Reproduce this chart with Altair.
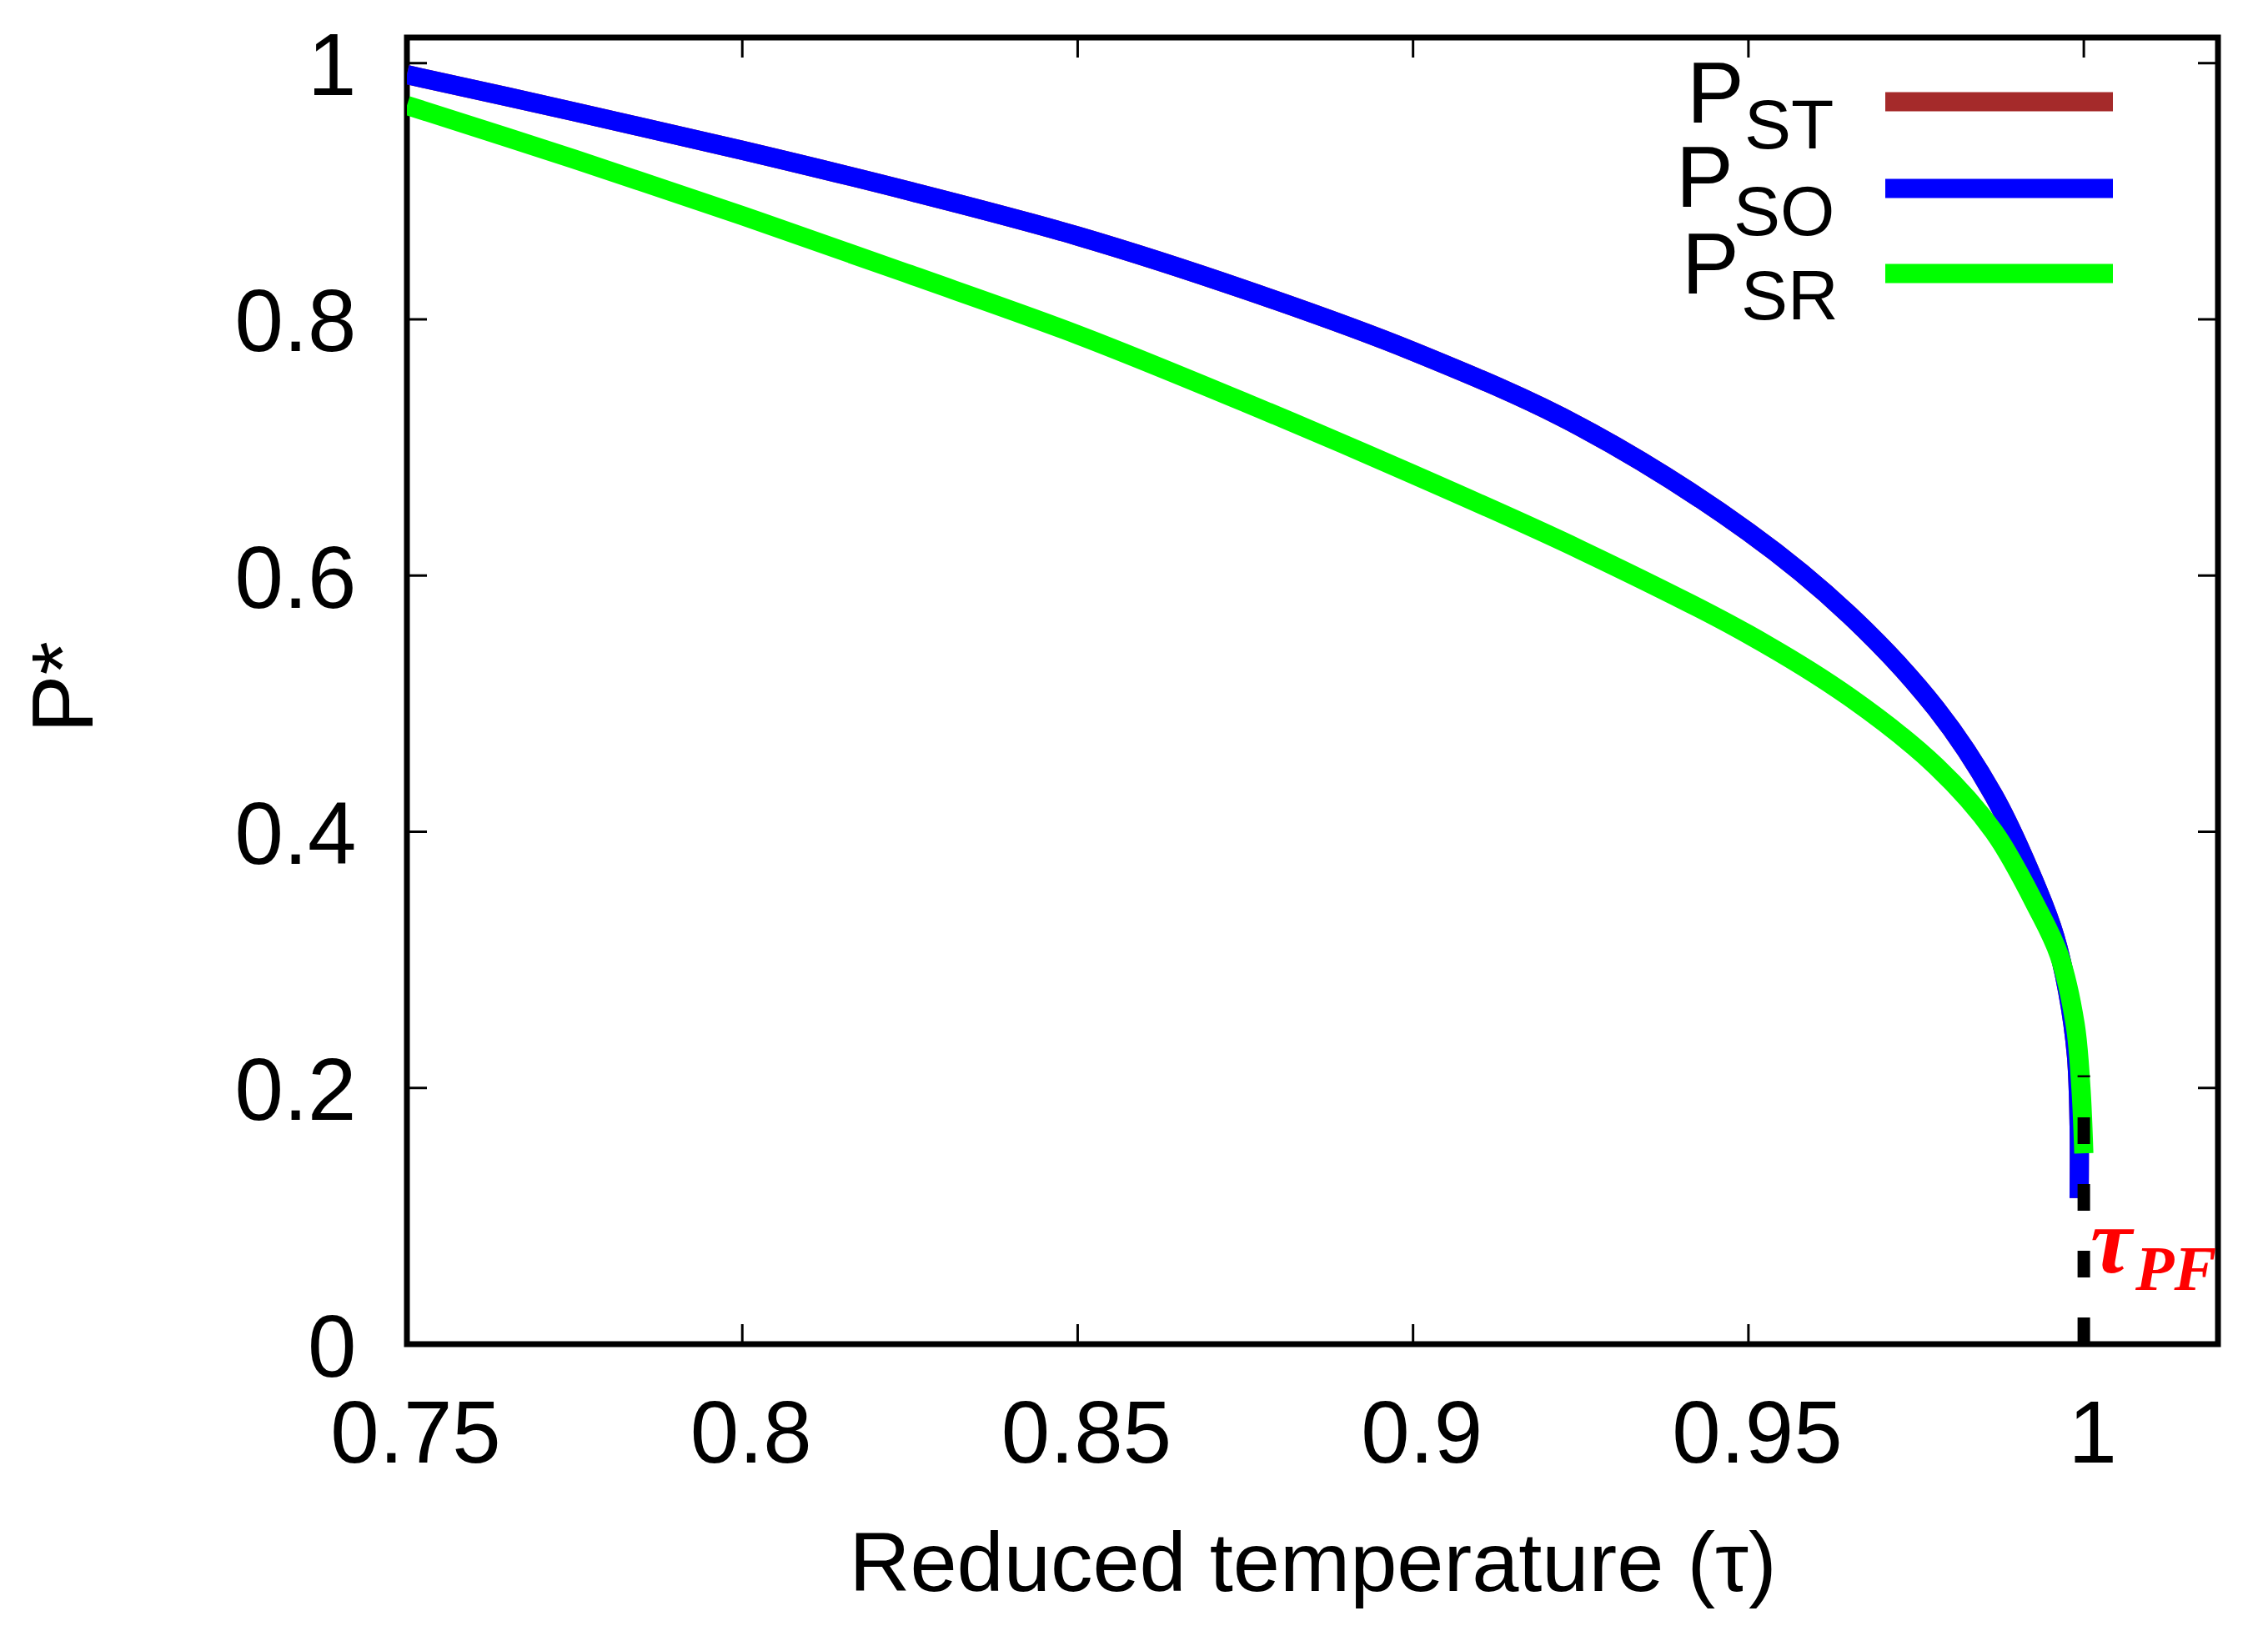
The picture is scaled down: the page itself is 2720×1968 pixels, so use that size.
import altair as alt
import pandas as pd

# ---------------- data ----------------
tau_st = [0.75, 0.775, 0.80, 0.825, 0.85, 0.875, 0.90, 0.925, 0.95, 0.9651, 0.978,
          0.9866, 0.9931, 0.9957, 0.9976, 0.9989, 0.9993, 0.9993]
p_st = [0.991, 0.962, 0.932, 0.900, 0.865, 0.823, 0.775, 0.716, 0.634, 0.569, 0.496,
        0.428, 0.355, 0.318, 0.275, 0.225, 0.170, 0.114]

tau_so = [0.75, 0.775, 0.80, 0.825, 0.85, 0.875, 0.90, 0.925, 0.95, 0.9651, 0.978,
          0.9866, 0.9931, 0.9957, 0.9976, 0.9989, 0.9993, 0.9993]
p_so = [0.991, 0.962, 0.932, 0.900, 0.865, 0.823, 0.775, 0.716, 0.634, 0.569, 0.496,
        0.428, 0.355, 0.318, 0.275, 0.225, 0.170, 0.114]

tau_sr = [0.75, 0.775, 0.80, 0.825, 0.85, 0.875, 0.90, 0.925, 0.95, 0.9651, 0.978,
          0.9866, 0.9931, 0.9963, 0.9987, 0.99957, 1.0]
p_sr = [0.967, 0.925, 0.881, 0.835, 0.788, 0.735, 0.679, 0.620, 0.554, 0.505, 0.451,
        0.400, 0.340, 0.304, 0.250, 0.200, 0.149]

series_main = ["P", "P", "P"]
series_sub = ["ST", "SO", "SR"]
series_colors = ["#a52a2a", "#0000ff", "#00ff00"]

x_ticks = [0.75, 0.8, 0.85, 0.9, 0.95, 1.0]
y_ticks = [0.0, 0.2, 0.4, 0.6, 0.8, 1.0]

tau_pf = [1.0]
pf_low = [0.0]
pf_high = [0.21]

x_title = "Reduced temperature (τ)"
y_title = "P*"

# ---------------- layout ----------------
W, H = 2172, 1567
FONT = "Liberation Sans"
TICK_LEN = 24

x_scale = alt.Scale(domain=[0.75, 1.02], nice=False, zero=False)
y_scale = alt.Scale(domain=[0, 1.02], nice=False, zero=False)

x_axis = alt.Axis(values=x_ticks, format="~g", title=x_title, labelFontSize=105,
                  labelPadding=58, labelFlush=False, labelOverlap=False, labelLimit=0,
                  labelOffset=10,
                  titleFontSize=101, titleFontWeight="normal",
                  titleBaseline="alphabetic", titleY=295)
y_axis = alt.Axis(values=y_ticks, format="~g", title=y_title, labelFontSize=105,
                  labelPadding=61, labelFlush=False, labelOverlap=False, labelLimit=0,
                  labelOffset=6,
                  titleFontSize=104, titleFontWeight="normal", titleAngle=270,
                  titleBaseline="alphabetic", titleX=-378, titleY=H / 2 - 45 + 40)


def X(field):
    return alt.X(field, type="quantitative", scale=x_scale, axis=x_axis)


def Y(field):
    return alt.Y(field, type="quantitative", scale=y_scale, axis=y_axis)


layers = []

# inward ticks on all four sides
df_xt = pd.DataFrame({"tau": x_ticks})
df_yt = pd.DataFrame({"p": y_ticks})
layers.append(alt.Chart(df_xt).mark_rule(color="black", strokeWidth=3).encode(
    x=X("tau"), y=alt.value(H), y2=alt.value(H - TICK_LEN)))
layers.append(alt.Chart(df_xt).mark_rule(color="black", strokeWidth=3).encode(
    x=X("tau"), y=alt.value(0), y2=alt.value(TICK_LEN)))
layers.append(alt.Chart(df_yt).mark_rule(color="black", strokeWidth=3).encode(
    y=Y("p"), x=alt.value(0), x2=alt.value(TICK_LEN)))
layers.append(alt.Chart(df_yt).mark_rule(color="black", strokeWidth=3).encode(
    y=Y("p"), x=alt.value(W), x2=alt.value(W - TICK_LEN)))

# curves (drawn in order ST, SO, SR)
for taus, ps, col in [(tau_st, p_st, series_colors[0]),
                      (tau_so, p_so, series_colors[1]),
                      (tau_sr, p_sr, series_colors[2])]:
    df = pd.DataFrame({"tau": taus, "p": ps, "idx": list(range(len(taus)))})
    layers.append(alt.Chart(df).mark_line(color=col, strokeWidth=23, clip=True,
                                          interpolate="catmull-rom",
                                          strokeCap="butt", strokeJoin="round").encode(
        x=X("tau"), y=Y("p"), order=alt.Order("idx:Q")))

# dashed vertical line at tau_PF
df_pf = pd.DataFrame({"tau": tau_pf, "p": pf_low, "p1": pf_high})
layers.append(alt.Chart(df_pf).mark_rule(color="black", strokeWidth=15,
                                         strokeDash=[32, 48], strokeCap="butt").encode(
    x=X("tau"), y=Y("p"), y2=alt.Y2("p1")))

# tau_PF label
df_lab1 = pd.DataFrame({"tau": tau_pf, "p": pf_low, "t": ["τ"]})
df_lab2 = pd.DataFrame({"tau": tau_pf, "p": pf_low, "t": ["PF"]})
layers.append(alt.Chart(df_lab1).mark_text(
    font="Liberation Serif", fontStyle="italic", fontWeight="bold", fontSize=112,
    color="#ff0000", align="left", baseline="alphabetic", dx=8, dy=-86).encode(
    x=X("tau"), y=Y("p"), text="t:N"))
layers.append(alt.Chart(df_lab2).mark_text(
    font="Liberation Serif", fontStyle="italic", fontWeight="bold", fontSize=76,
    color="#ff0000", align="left", baseline="alphabetic", dx=62, dy=-65).encode(
    x=X("tau"), y=Y("p"), text="t:N"))

# custom legend with subscripts
leg_line_x = (1773, 2046)
leg_line_y = [77, 181, 283]
leg_main_x = [1535, 1522, 1529]
leg_main_y = [102, 203, 307]
leg_sub_x = [1604, 1591, 1600]
leg_sub_y = [133, 237, 338]
for i in range(3):
    d_main = pd.DataFrame({"t": [series_main[i]]})
    d_sub = pd.DataFrame({"t": [series_sub[i]]})
    layers.append(alt.Chart(d_main).mark_rule(color=series_colors[i], strokeWidth=23,
                                              strokeCap="butt").encode(
        x=alt.value(leg_line_x[0]), x2=alt.value(leg_line_x[1]), y=alt.value(leg_line_y[i])))
    layers.append(alt.Chart(d_main).mark_text(font=FONT, fontSize=103, color="black",
                                              align="left", baseline="alphabetic").encode(
        x=alt.value(leg_main_x[i]), y=alt.value(leg_main_y[i]), text="t:N"))
    layers.append(alt.Chart(d_sub).mark_text(font=FONT, fontSize=84, color="black",
                                             align="left", baseline="alphabetic").encode(
        x=alt.value(leg_sub_x[i]), y=alt.value(leg_sub_y[i]), text="t:N"))

chart = alt.layer(*layers).properties(
    width=W, height=H,
    autosize=alt.AutoSizeParams(type="none"),
    padding={"left": 480, "top": 37, "right": 52, "bottom": 348},
    background="white",
).configure_view(
    stroke="black", strokeWidth=7
).configure_axis(
    domain=False, ticks=False, tickSize=0, grid=False,
    labelFont=FONT, titleFont=FONT, labelColor="black", titleColor="black",
)

chart.save("out.html", embed_options={"renderer": "svg", "actions": False})
